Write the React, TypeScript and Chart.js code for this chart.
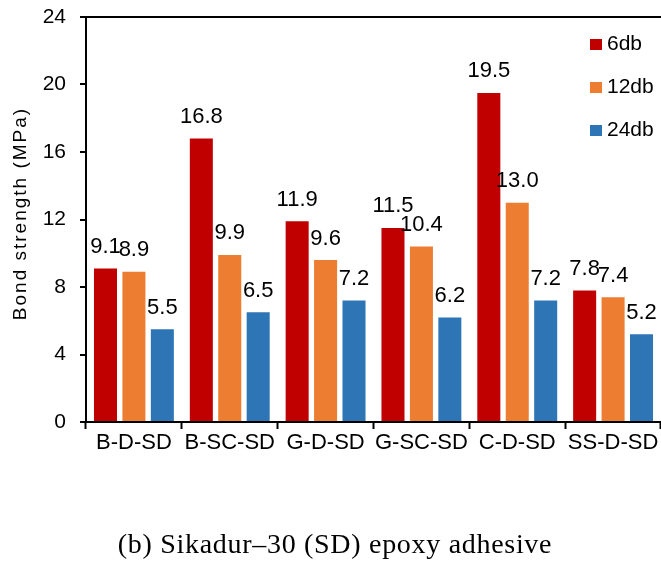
import React, { useEffect, useRef } from "react";
import { Chart, registerables } from "chart.js";

Chart.register(...registerables);

// Bond strength by specimen group and embedment length
const categories = ["B-D-SD", "B-SC-SD", "G-D-SD", "G-SC-SD", "C-D-SD", "SS-D-SD"];
const seriesNames = ["6db", "12db", "24db"];
const values6db = [9.1, 16.8, 11.9, 11.5, 19.5, 7.8];
const values12db = [8.9, 9.9, 9.6, 10.4, 13.0, 7.4];
const values24db = [5.5, 6.5, 7.2, 6.2, 7.2, 5.2];
const seriesColors = ["#C00000", "#ED7D31", "#2E75B6"];
const yTicks = [0, 4, 8, 12, 16, 20, 24];
const yTitle = "Bond strength (MPa)";
const caption = "(b) Sikadur\u201330 (SD) epoxy adhesive";

const SANS = "'Liberation Sans', Arial, Helvetica, sans-serif";
const SERIF = "'Liberation Serif', 'Times New Roman', serif";

const seriesValues = [values6db, values12db, values24db];

// Numeric labels above each bar
const valueLabels = {
  id: "valueLabels",
  afterDatasetsDraw(chart: any) {
    const ctx = chart.ctx;
    ctx.save();
    ctx.fillStyle = "#000";
    ctx.font = `22px ${SANS}`;
    ctx.textAlign = "center";
    ctx.textBaseline = "alphabetic";
    chart.data.datasets.forEach((ds: any, i: number) => {
      const meta = chart.getDatasetMeta(i);
      meta.data.forEach((bar: any, j: number) => {
        ctx.fillText(Number(ds.data[j]).toFixed(1), bar.x, bar.y - 15.5);
      });
    });
    ctx.restore();
  },
};

// Vertical legend in the upper right, axis title and caption
const decorations = {
  id: "decorations",
  afterDraw(chart: any) {
    const ctx = chart.ctx;
    const area = chart.chartArea;
    ctx.save();

    // legend
    ctx.font = `21px ${SANS}`;
    ctx.textAlign = "left";
    ctx.textBaseline = "alphabetic";
    chart.data.datasets.forEach((ds: any, i: number) => {
      const base = area.top + 33 + i * 43;
      ctx.fillStyle = ds.backgroundColor;
      ctx.fillRect(590, base - 11, 12, 11);
      ctx.fillStyle = "#000";
      ctx.fillText(ds.label, 607, base);
    });

    // y-axis title
    ctx.save();
    ctx.translate(21, (area.top + area.bottom) / 2 - 6);
    ctx.rotate(-Math.PI / 2);
    ctx.font = `19px ${SANS}`;
    (ctx as any).letterSpacing = "2px";
    ctx.textAlign = "center";
    ctx.textBaseline = "middle";
    ctx.fillStyle = "#000";
    ctx.fillText(yTitle, 0, 0);
    ctx.restore();

    // caption
    ctx.font = `28px ${SERIF}`;
    (ctx as any).letterSpacing = "0.7px";
    ctx.textAlign = "center";
    ctx.textBaseline = "alphabetic";
    ctx.fillStyle = "#000";
    ctx.fillText(caption, 335, 553);

    ctx.restore();
  },
};

export default function App() {
  const canvasRef = useRef<HTMLCanvasElement | null>(null);

  useEffect(() => {
    const canvas = canvasRef.current;
    if (!canvas) return;
    Chart.defaults.font.family = SANS;
    Chart.defaults.color = "#000";

    const chart = new Chart(canvas, {
      type: "bar",
      data: {
        labels: categories,
        datasets: seriesNames.map((name, i) => ({
          label: name,
          data: seriesValues[i],
          backgroundColor: seriesColors[i],
          borderWidth: 0,
          categoryPercentage: 0.89,
          barPercentage: 0.81,
        })),
      },
      options: {
        responsive: false,
        animation: false,
        devicePixelRatio: 1,
        layout: { padding: { top: 17, left: 0, right: 0, bottom: 0 } },
        plugins: {
          legend: { display: false },
          tooltip: { enabled: false },
          title: { display: false },
        },
        scales: {
          x: {
            offset: true,
            grid: {
              display: true,
              offset: true,
              drawOnChartArea: false,
              drawTicks: true,
              tickLength: 7,
              tickWidth: 2,
              tickColor: "#000",
            },
            border: { display: true, color: "#000", width: 2 },
            ticks: {
              color: "#000",
              font: { family: SANS, size: 22 },
              padding: 1,
              maxRotation: 0,
              autoSkip: false,
            },
            afterFit: (s: any) => {
              s.height = 139;
              s.paddingLeft = 0;
              s.paddingRight = 0;
            },
          },
          y: {
            min: 0,
            max: 24,
            afterBuildTicks: (s: any) => {
              s.ticks = yTicks.map((v) => ({ value: v }));
            },
            ticks: {
              color: "#000",
              font: { family: SANS, size: 21 },
              padding: 14,
            },
            grid: {
              color: (c: any) =>
                c.tick && c.tick.value === yTicks[yTicks.length - 1] ? "#000" : "rgba(0,0,0,0)",
              lineWidth: 2,
              tickColor: "#000",
              tickLength: 6,
              tickWidth: 2,
            },
            border: { display: true, color: "#000", width: 2 },
            afterFit: (s: any) => {
              s.width = 86;
              s.paddingTop = 0;
              s.paddingBottom = 0;
            },
          },
        },
      },
      plugins: [valueLabels, decorations],
    });

    return () => chart.destroy();
  }, []);

  return (
    <div style={{ position: "absolute", left: 0, top: 0, width: 661, height: 561, background: "#fff" }}>
      <canvas ref={canvasRef} width={661} height={561} style={{ display: "block" }} />
    </div>
  );
}
